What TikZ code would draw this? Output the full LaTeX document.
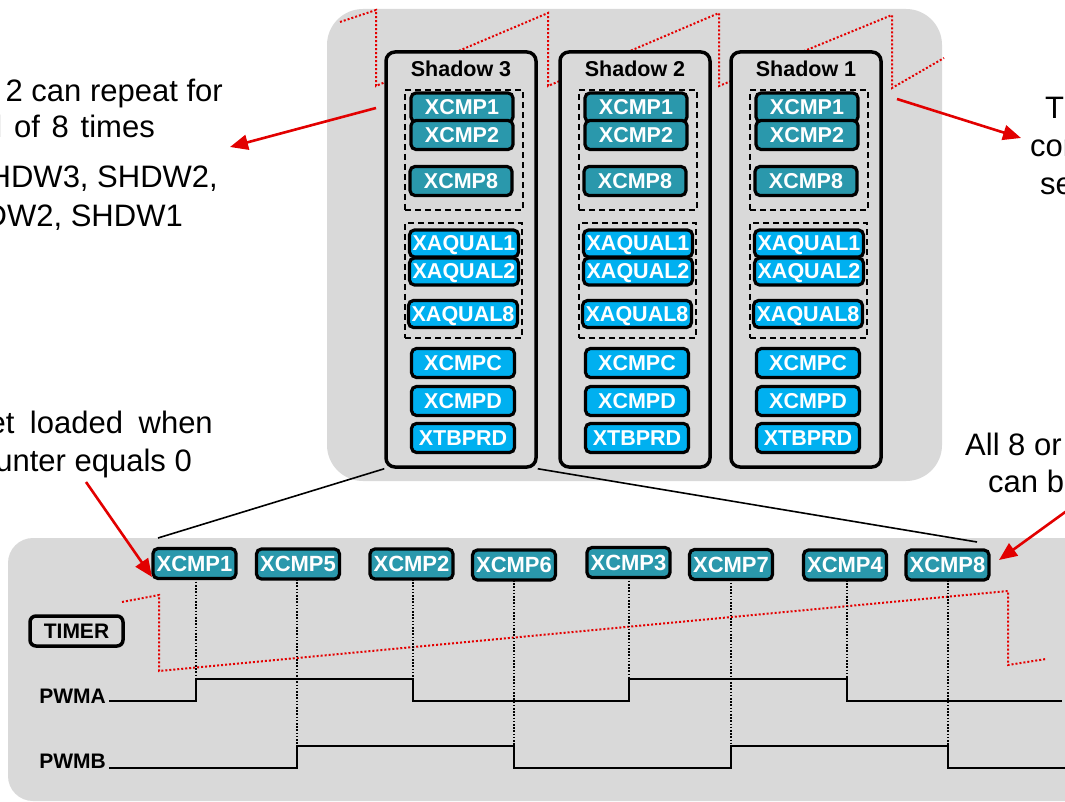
\documentclass[tikz,border=0pt]{standalone}
\usepackage{fontspec}
\setmainfont{Liberation Sans}
\usetikzlibrary{arrows.meta}
\definecolor{panel}{RGB}{217,217,217}
\definecolor{cmpteal}{RGB}{42,152,172}
\definecolor{aqcyan}{RGB}{0,176,240}
\definecolor{sawred}{RGB}{228,0,0}
\definecolor{callred}{RGB}{226,0,0}
\begin{document}
\begin{tikzpicture}[x=1pt,y=-1pt,
  regbox/.style={draw=black,line width=3.2pt,rounded corners=5pt,text=white,
    font=\fontsize{21.5}{21.5}\selectfont\bfseries,inner sep=0pt,
    text height=15pt,text depth=0pt,minimum height=29pt},
  cmpreg/.style={regbox,fill=cmpteal,minimum width=102pt},
  aqreg/.style={regbox,fill=aqcyan,minimum width=109pt,minimum height=27pt},
  plainreg/.style={regbox,fill=aqcyan,minimum width=103pt},
  evreg/.style={regbox,fill=cmpteal,minimum width=83pt,minimum height=30pt,
    font=\fontsize{22}{22}\selectfont\bfseries},
  shadowframe/.style={draw=black,fill=panel,line width=3.5pt,rounded corners=9pt,
    minimum width=150pt,minimum height=415pt,inner sep=0pt},
  shtitle/.style={font=\fontsize{21.5}{21.5}\selectfont\bfseries,inner sep=0pt,anchor=base},
  grp/.style={draw=black,line width=1.8pt,dash pattern=on 6pt off 4pt,inner sep=0pt},
  sawtooth/.style={draw=sawred,line width=2pt,dash pattern=on 2pt off 2pt},
  guide/.style={draw=black,line width=1.6pt,dash pattern=on 1.6pt off 1.6pt},
  wave/.style={draw=black,line width=2pt},
  link/.style={draw=black,line width=1.6pt},
  note/.style={font=\fontsize{31}{37}\selectfont,inner sep=0pt},
  sig/.style={font=\fontsize{21}{21}\selectfont\bfseries,inner sep=0pt,anchor=base east},
  callout/.style={draw=callred,line width=2.6pt,-{Triangle[length=18pt,width=15pt]}}
]
\useasboundingbox (0,0) rectangle (1065,802);
\clip (0,0) rectangle (1065,802);
\fill[white] (0,0) rectangle (1065,802);

% upper panel holding the three shadow register sets
\fill[panel,rounded corners=36pt] (327,9) rectangle (942,481);

% counter ramp behind the shadow sets
\draw[sawtooth] (340,22) -- (376,10) -- (376,86) -- (548,13) -- (548,86)
  -- (719,13) -- (719,86) -- (892,15) -- (892,88) -- (944,58);

% shadow register sets
\foreach \c/\n in {461/3,635/2,806/1} {
  \node[shadowframe] (shd\n) at (\c,259.5) {};
  \node[shtitle] (ttl\n) at (\c,77) {Shadow \n};
  \node[grp,minimum width=118pt,minimum height=120pt] (grpc\n) at (\c+3,150) {};
  \node[grp,minimum width=117pt,minimum height=115pt] (grpq\n) at (\c+2.5,280.5) {};
  \node[cmpreg] (cmpone\n) at (\c+1,107.5) {XCMP1};
  \node[cmpreg] (cmptwo\n) at (\c+1,135) {XCMP2};
  \node[cmpreg] (cmpeight\n) at (\c,181) {XCMP8};
  \node[aqreg] (aqone\n) at (\c+3,243.5) {XAQUAL1};
  \node[aqreg] (aqtwo\n) at (\c+3,271.5) {XAQUAL2};
  \node[aqreg] (aqeight\n) at (\c+2,314) {XAQUAL8};
  \node[plainreg] (cmpc\n) at (\c+2,363) {XCMPC};
  \node[plainreg] (cmpd\n) at (\c+2,401) {XCMPD};
  \node[plainreg] (tbprd\n) at (\c+2,438) {XTBPRD};
}

% lower panel with the timing view
\fill[panel,rounded corners=25pt] (8,538) rectangle (1090,801);

% zoom lines from shadow set 3 down to the timing view
\coordinate (zl) at (158,538);
\coordinate (zr) at (977,542);
\draw[link] (shd3.south west) -- (zl);
\draw[link] (shd3.south east) -- (zr);

% timer ramp
\draw[sawtooth] (122,602) -- (159,595) -- (159,671) -- (1008,591) -- (1008,665) -- (1046,659);

\node[draw=black,line width=3.5pt,rounded corners=6pt,minimum width=93pt,minimum height=30pt,
  inner sep=0pt,font=\fontsize{21}{21}\selectfont\bfseries,text height=15pt,text depth=0pt]
  (timer) at (76.5,631) {TIMER};

% PWM output edges
\coordinate (alo) at (0,701);
\coordinate (blo) at (0,768);
\coordinate (pa1) at (196,679);
\coordinate (pa2) at (413,679);
\coordinate (pa3) at (629,679);
\coordinate (pa4) at (847,679);
\coordinate (pb1) at (297,746);
\coordinate (pb2) at (514,746);
\coordinate (pb3) at (731,746);
\coordinate (pb4) at (948,746);

\node[sig] (pwma) at (106,703) {PWMA};
\node[sig] (pwmb) at (106,768) {PWMB};

\draw[wave] (109,701) -| (pa1) -- (pa2) -- (pa2 |- alo) -| (pa3) -- (pa4)
  -- (pa4 |- alo) -- (1062,701);
\draw[wave] (109,768) -| (pb1) -- (pb2) -- (pb2 |- blo) -| (pb3) -- (pb4)
  -- (pb4 |- blo) -- (1070,768);

% compare events and their trigger lines
\foreach \lab/\x/\y/\e in {XCMP1/194.5/563.5/pa1, XCMP5/298/564/pb1,
    XCMP2/411.5/564/pa2, XCMP6/514/565/pb2, XCMP3/628.5/562.5/pa3,
    XCMP7/731/564.5/pb3, XCMP4/845/565/pa4, XCMP8/947.5/565/pb4} {
  \draw[guide] (\e |- 0,\y) ++(0,15) -- (\e);
  \node[evreg] (n\lab) at (\x,\y) {\lab};
}

% notes around the figure
\node[note,anchor=base east] (t1) at (223,102) {2 can repeat for};
\node[note,anchor=base east] (t2) at (155,138) {\spaceskip=11.8pt\relax total of 8 times};
\node[note,anchor=base east] (t3) at (218,188) {SHDW3, SHDW2,};
\node[note,anchor=base east] (t4) at (183,227) {SHDW2, SHDW1};
\node[note,anchor=base east] (t5) at (213,433) {\spaceskip=15.6pt\relax get loaded when};
\node[note,anchor=base east] (t6) at (192,471) {counter equals 0};
\node[note,anchor=base west] (t7) at (1045,119) {The};
\node[note,anchor=base west] (t8) at (1030,157) {compare};
\node[note,anchor=base west] (t9) at (1040,195) {sets};
\node[note,anchor=base west] (t10) at (965,455) {All 8 or fewer};
\node[note,anchor=base west] (t11) at (988,492) {can be};

% callout arrows
\coordinate (c1s) at (376,108);
\coordinate (c1e) at (230,147);
\coordinate (c2s) at (897,99);
\coordinate (c2e) at (1021,138);
\coordinate (c3s) at (86,482);
\coordinate (c3e) at (152,577);
\coordinate (c4s) at (1068,510);
\coordinate (c4e) at (999,560);
\draw[callout] (c1s) -- (c1e);
\draw[callout] (c2s) -- (c2e);
\draw[callout] (c3s) -- (c3e);
\draw[callout] (c4s) -- (c4e);
\end{tikzpicture}
\end{document}
